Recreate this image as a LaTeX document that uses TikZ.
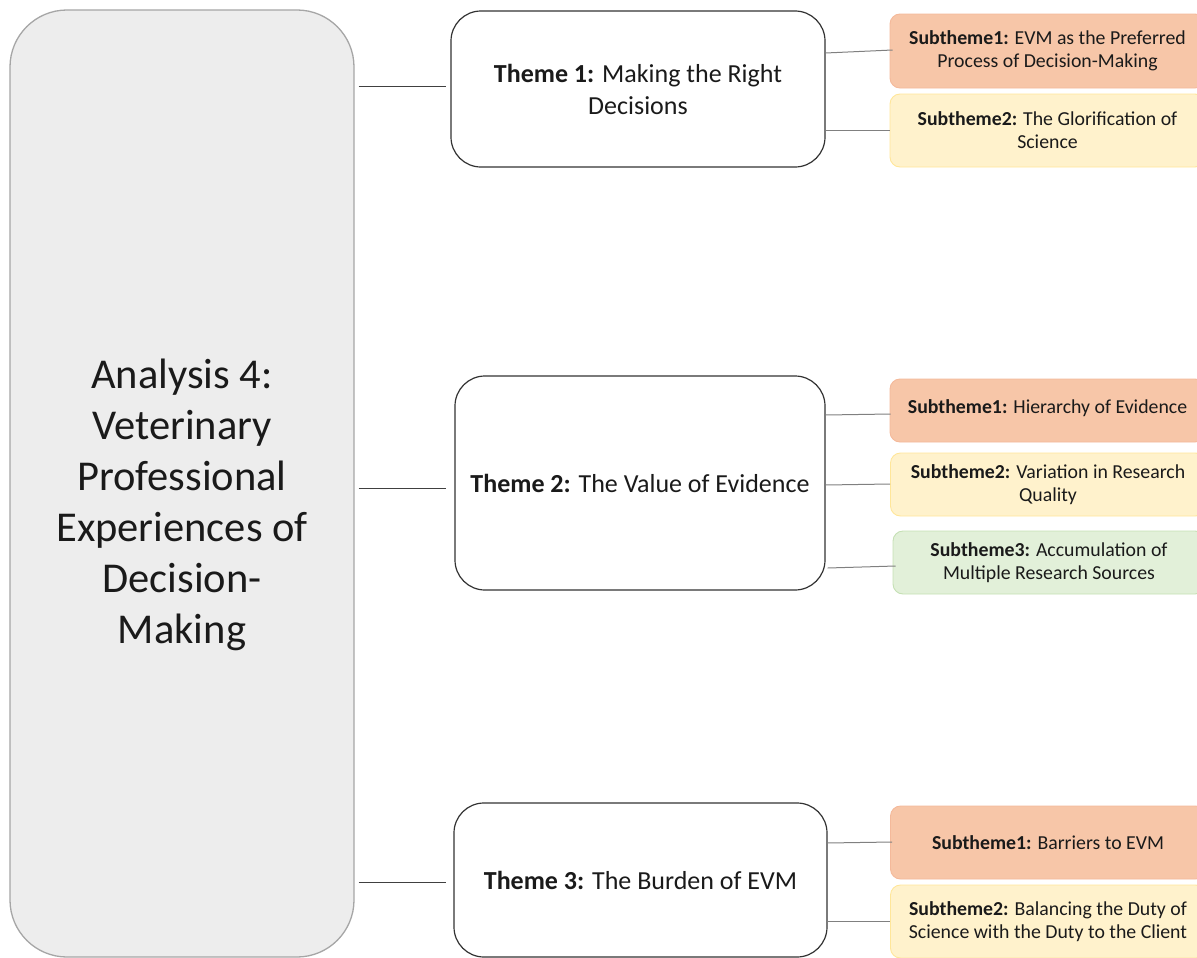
\documentclass[tikz,border=0pt]{standalone}
\usepackage{fontspec}
\setmainfont{Carlito}
\usetikzlibrary{calc}
\definecolor{lbfill}{HTML}{EDEDED}
\definecolor{lbdraw}{HTML}{A6A6A6}
\definecolor{orfill}{HTML}{F7C6A8}
\definecolor{ordraw}{HTML}{F4B99A}
\definecolor{yefill}{HTML}{FFF2CC}
\definecolor{yedraw}{HTML}{FFE699}
\definecolor{grfill}{HTML}{E2F0D9}
\definecolor{grdraw}{HTML}{C5E0B4}
\definecolor{ink}{HTML}{1A1A1A}
\tikzset{
  mainbox/.style={draw=lbdraw, line width=1.3bp, fill=lbfill, rounded corners=57bp,
    minimum width=344bp, minimum height=947bp, inner sep=0pt},
  themebox/.style={draw=black!80, line width=1.2bp, fill=white, rounded corners=30bp,
    inner sep=0pt, align=center, text=ink, font=\fontsize{26bp}{32bp}\selectfont},
  subbox/.style={rounded corners=10bp, line width=0.9bp, inner sep=0pt,
    minimum width=315bp, align=center, text=ink, font=\fontsize{19.8bp}{23bp}\selectfont},
  orange/.style={subbox, fill=orfill, draw=ordraw},
  yellow/.style={subbox, fill=yefill, draw=yedraw},
  green/.style={subbox, fill=grfill, draw=grdraw},
  biglink/.style={draw=black!75, line width=1bp},
  sublink/.style={draw=black!50, line width=1bp},
}
\begin{document}
\begin{tikzpicture}[x=1bp,y=-1bp]
\useasboundingbox (0,0) rectangle (1197,958);
\clip (0,0) rectangle (1197,958);

% main analysis box
\node[mainbox] (lb) at (182,483.5) {};
\node[align=center, text=ink, font=\fontsize{42.5bp}{51bp}\selectfont] (lbt) at (182,505)
  {Analysis 4:\\Veterinary\\Professional\\Experiences of\\Decision-\\Making};

% themes
\node[themebox, minimum width=374bp, minimum height=156bp] (t1) at (638,89)
  {\textbf{Theme 1:} Making the Right\\Decisions};
\node[themebox, minimum width=370bp, minimum height=214bp] (t2) at (640,483)
  {\textbf{Theme 2:} The Value of Evidence};
\node[themebox, minimum width=373bp, minimum height=154bp] (t3) at (640.5,880)
  {\textbf{Theme 3:} The Burden of EVM};

% subthemes
\node[orange, minimum height=74bp] (s11) at (1047.5,51)
  {\textbf{Subtheme1:} EVM as the Preferred\\Process of Decision-Making};
\node[yellow, minimum height=73bp] (s12) at (1047.5,130.5)
  {\textbf{Subtheme2:} The Glorification of\\Science};
\node[orange, minimum height=63bp] (s21) at (1047.5,410.5)
  {\raisebox{7bp}{\textbf{Subtheme1:} Hierarchy of Evidence}};
\node[yellow, minimum height=63bp] (s22) at (1048,484.5)
  {\textbf{Subtheme2:} Variation in Research\\Quality};
\node[green, minimum width=312bp, minimum height=63bp] (s23) at (1049,562.5)
  {\textbf{Subtheme3:} Accumulation of\\Multiple Research Sources};
\node[orange, minimum height=73bp] (s31) at (1048,842.5)
  {\textbf{Subtheme1:} Barriers to EVM};
\node[yellow, minimum height=73bp] (s32) at (1048,921.5)
  {\textbf{Subtheme2:} Balancing the Duty of\\Science with the Duty to the Client};

% analysis to themes
\draw[biglink] ($(lb.east |- t1.west)+(4,-3)$) -- ($(t1.west)+(-4,-3)$);
\draw[biglink] ($(lb.east |- t2.west)+(4,5)$) -- ($(t2.west)+(-8,5)$);
\draw[biglink] ($(lb.east |- t3.west)+(4,2)$) -- ($(t3.west)+(-7,2)$);

% themes to subthemes
\draw[sublink] ($(t1.east)+(0,-36)$) -- ($(s11.west)+(3,-1)$);
\draw[sublink] ($(t1.east)+(0,41)$) -- ($(s12.west)+(0,-0.5)$);
\draw[sublink] ($(t2.east)+(0,-68)$) -- ($(s21.west)+(1,3.5)$);
\draw[sublink] ($(t2.east)+(0,2)$) -- ($(s22.west)+(0,-0.5)$);
\draw[sublink] ($(t2.east)+(2,85)$) -- ($(s23.west)+(3,3.5)$);
\draw[sublink] ($(t3.east)+(-0.5,-37)$) -- ($(s31.west)+(2,-0.5)$);
\draw[sublink] ($(t3.east)+(-0.5,41)$) -- ($(s32.west)+(0,-0.5)$);
\end{tikzpicture}
\end{document}
